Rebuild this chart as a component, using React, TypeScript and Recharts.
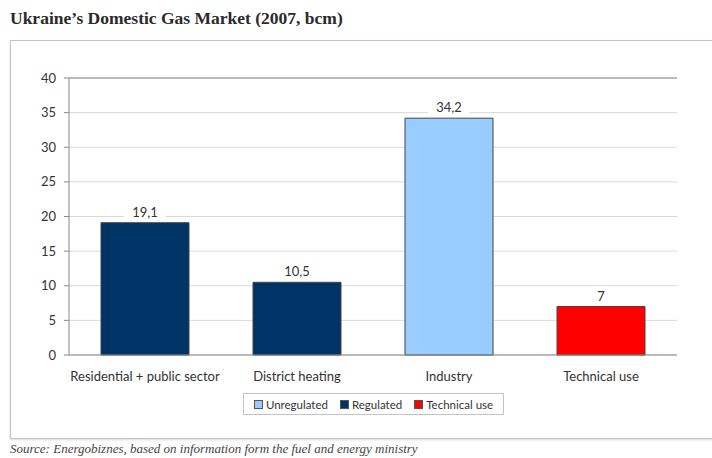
import { BarChart, Bar, Cell, XAxis, YAxis, CartesianGrid, Legend, LabelList, ReferenceLine } from 'recharts';

const categories = ['Residential + public sector', 'District heating', 'Industry', 'Technical use'];
const values = [19.1, 10.5, 34.2, 7];
const groups = ['Regulated', 'Regulated', 'Unregulated', 'Technical use'];
const legendItems = ['Unregulated', 'Regulated', 'Technical use'];
const yTicks = [0, 5, 10, 15, 20, 25, 30, 35, 40];

const groupColors: Record<string, string> = {
  Unregulated: '#99ccff',
  Regulated: '#003366',
  'Technical use': '#ff0000',
};

const data = categories.map((name, i) => ({ name, value: values[i], group: groups[i] }));

const font = 'Lato, "DejaVu Sans", sans-serif';

function ValueLabel(props: any) {
  const { x, y, width, value } = props;
  const cx = x + width / 2;
  const text = String(value).replace('.', ',');
  const w = text.length * 7.5 + 12;
  return (
    <g>
      <rect x={cx - w / 2} y={y - 20} width={w} height={17} fill="#fff" />
      <text x={cx} y={y - 11} textAnchor="middle" dominantBaseline="central" fontSize={13} fill="#333" fontFamily={font}>
        {text}
      </text>
    </g>
  );
}

function LegendBox() {
  return (
    <div
      style={{
        border: '1px solid #c4c4c4',
        height: 20,
        display: 'flex',
        alignItems: 'center',
        justifyContent: 'center',
        gap: 12,
        fontFamily: font,
        fontSize: 11.5,
        color: '#333',
        background: '#fff',
      }}
    >
      {legendItems.map((g) => (
        <span key={g} style={{ display: 'flex', alignItems: 'center' }}>
          <span
            style={{
              width: 7,
              height: 7,
              background: groupColors[g],
              border: '1px solid #555',
              marginRight: 3,
              display: 'inline-block',
            }}
          />
          {g}
        </span>
      ))}
    </div>
  );
}

export default function App() {
  return (
    <div style={{ position: 'absolute', left: 0, top: 0, width: 712, height: 458, background: '#fff', overflow: 'hidden' }}>
      <div
        style={{
          position: 'absolute',
          left: 10,
          top: 8,
          fontFamily: '"Liberation Serif", serif',
          fontWeight: 'bold',
          fontSize: 17.5,
          color: '#2a2a2a',
        }}
      >
        Ukraine’s Domestic Gas Market (2007, bcm)
      </div>
      <div
        style={{
          position: 'absolute',
          left: 10,
          top: 40,
          width: 720,
          height: 397,
          border: '1px solid #c4c4c4',
          boxShadow: '0 1px 2px rgba(0,0,0,0.15)',
        }}
      >
        <BarChart width={702} height={397} data={data} margin={{ top: 37, right: 36, bottom: 31, left: 0 }}>
          <CartesianGrid vertical={false} stroke="#d9d9d9" />
          <XAxis
            dataKey="name"
            height={30}
            tickLine={false}
            axisLine={{ stroke: '#888' }}
            tickMargin={11}
            tick={{ fontSize: 13, fill: '#333', fontFamily: font }}
            interval={0}
          />
          <YAxis
            width={58}
            domain={[0, 40]}
            ticks={yTicks}
            tickSize={5}
            tickMargin={8}
            axisLine={{ stroke: '#888' }}
            tickLine={{ stroke: '#888' }}
            tick={{ fontSize: 13, fill: '#333', fontFamily: font }}
          />
          <YAxis yAxisId="right" orientation="right" width={0} tick={false} tickLine={false} axisLine={{ stroke: '#888' }} />
          <ReferenceLine y={40} stroke="#888" />
          <Legend
            verticalAlign="bottom"
            content={() => <LegendBox />}
            wrapperStyle={{ left: 232, bottom: 23, width: 261 }}
          />
          <Bar dataKey="value" barSize={88} stroke="#444" strokeWidth={1} isAnimationActive={false}>
            {data.map((d) => (
              <Cell key={d.name} fill={groupColors[d.group]} />
            ))}
            <LabelList dataKey="value" content={ValueLabel} />
          </Bar>
        </BarChart>
      </div>
      <div
        style={{
          position: 'absolute',
          left: 10,
          top: 441,
          fontFamily: '"Liberation Serif", serif',
          fontStyle: 'italic',
          fontSize: 13,
          color: '#444',
        }}
      >
        Source: Energobiznes, based on information form the fuel and energy ministry
      </div>
    </div>
  );
}
